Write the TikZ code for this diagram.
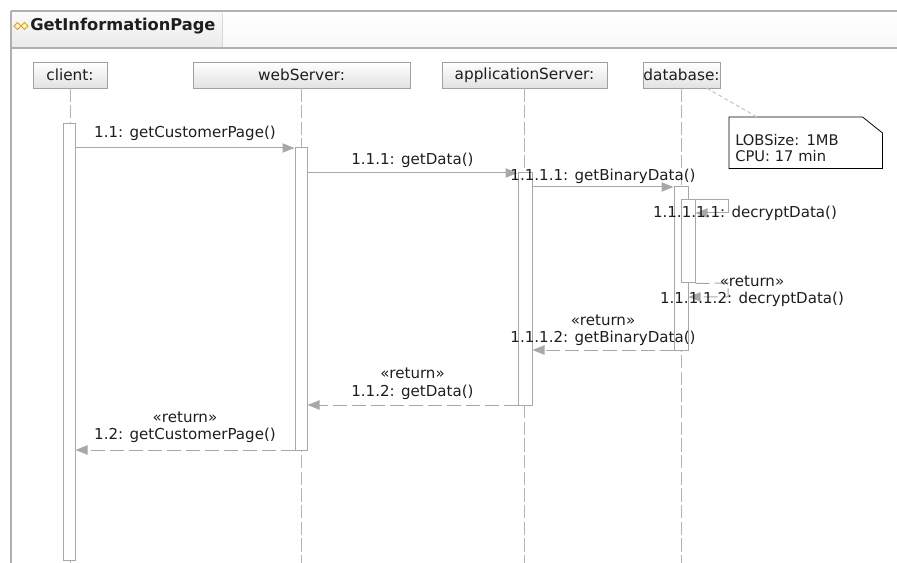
\documentclass[tikz,border=0pt]{standalone}
\usepackage{fontspec}
\setmainfont{DejaVu Sans}
\usetikzlibrary{arrows.meta,fit}

\definecolor{linegray}{HTML}{A8A8A8}
\definecolor{lifegray}{HTML}{B4B4B4}
\definecolor{headfill}{HTML}{E2E2E2}
\definecolor{headline}{HTML}{A0A0A0}
\definecolor{framegray}{HTML}{B0B0B0}
\definecolor{txt}{HTML}{1E1E1E}
\definecolor{iconorange}{HTML}{E39A2E}

\tikzset{
  head/.style={draw=headline, top color=white, bottom color=headfill, inner sep=0pt,
    minimum height=19.5pt, font=\fontsize{11.5}{13}\selectfont, text=txt},
  act/.style={draw=linegray, fill=white, inner sep=0pt, line width=0.75pt},
  life/.style={draw=lifegray, line width=0.75pt, dash pattern=on 10pt off 2.5pt},
  call/.style={draw=linegray, line width=0.75pt,
    -{Triangle[length=9pt,width=7pt,fill=linegray]}},
  ret/.style={call, dash pattern=on 10.5pt off 3.75pt},
  lbl/.style={font=\fontsize{11.3}{12.8}\selectfont, text=txt, inner sep=1.5pt, align=center},
}

\begin{document}
\begin{tikzpicture}[x=0.75pt, y=-0.75pt]
  \useasboundingbox (0,0) rectangle (897,563);

  % frame and header
  \fill[top color=white, bottom color=gray!6] (11,11) rectangle (897,48);
  \fill[top color=gray!4, bottom color=gray!16] (11,13) rectangle (222,47);
  \draw[gray!30] (222,13) -- (222,47);
  \draw[framegray, line width=1.1pt] (11,11) -- (897,11);
  \draw[framegray, line width=1.5pt] (11,48) -- (897,48);
  \draw[framegray, line width=2.2pt] (11,11) -- (11,563);
  \foreach \ix in {17.5,24.5}
    \draw[iconorange, fill=yellow!30, line width=0.7pt]
      (\ix-3.5,26) -- (\ix,22.5) -- (\ix+3.5,26) -- (\ix,29.5) -- cycle;
  \node[anchor=west, font=\fontsize{12.2}{14}\selectfont\bfseries, text=txt, inner sep=0pt]
    (title) at (30,26) {GetInformationPage};

  % lifelines
  \node[head, minimum width=55.5pt] (client) at (70,75) {client:};
  \node[head, minimum width=162.75pt] (webServer) at (301.5,75) {webServer:};
  \node[head, minimum width=123.75pt] (appServer) at (524.5,75) {applicationServer:};
  \node[head, minimum width=57.75pt] (database) at (681.5,75) {database:};
  \coordinate (bottom) at (0,563);
  \foreach \n in {client,webServer,appServer,database}
    \draw[life] (\n.south) -- (\n.south |- bottom);

  % activations
  \node[act, fit={(63,124) (75,560)}] (aClient) {};
  \node[act, fit={(295,148) (307,450)}] (aWeb) {};
  \node[act, fit={(518,173) (532,405)}] (aApp) {};
  \node[act, fit={(674,187) (688,350)}] (aDb) {};
  \node[act, fit={(681,200) (695,283)}] (aNest) {};

  % message levels
  \coordinate (m1) at (0,148);
  \coordinate (m2) at (0,173);
  \coordinate (m3) at (0,187);
  \coordinate (s1) at (728,200);
  \coordinate (s2) at (728,213);
  \coordinate (r1) at (728,283);
  \coordinate (r2) at (728,297);
  \coordinate (m5) at (0,350);
  \coordinate (m6) at (0,405);
  \coordinate (m7) at (0,450);

  % calls
  \draw[call] (aClient.east |- m1) -- node[lbl, above=3.5pt] {1.1: getCustomerPage()} (aWeb.west |- m1);
  \draw[call] (aWeb.east |- m2) -- node[lbl, above=2.5pt] {1.1.1: getData()} (aApp.west |- m2);
  \draw[call] (aApp.east |- m3) -- node[lbl, above=1pt] {1.1.1.1: getBinaryData()} (aDb.west |- m3);
  \draw[call] (aDb.east |- s1) -- (s1) -- (s2) -- (aNest.east |- s2);
  \node[lbl] (selfCall) at (745,213) {1.1.1.1.1: decryptData()};

  % returns
  \draw[ret] (aNest.south east) -- (r1) -- (r2) -- (aDb.east |- r2);
  \node[lbl] (selfRet) at (752,291) {«return»\\1.1.1.1.2: decryptData()};
  \draw[ret] (aDb.west |- m5) -- node[lbl, above=1.5pt] {«return»\\1.1.1.2: getBinaryData()} (aApp.east |- m5);
  \draw[ret] (aApp.west |- m6) -- node[lbl, above=2.5pt] {«return»\\1.1.2: getData()} (aWeb.east |- m6);
  \draw[ret] (aWeb.west |- m7) -- node[lbl, above=3.5pt] {«return»\\1.2: getCustomerPage()} (aClient.east |- m7);

  % note on the database
  \node[anchor=north west, minimum height=38.25pt, text width=105.75pt, inner xsep=4.5pt,
    align=left, font=\fontsize{11}{12}\selectfont, text=txt] (lobNote) at (729,122)
    {LOBSize: 1MB\\CPU: 17 min};
  \draw[black, line width=0.6pt] ([yshift=3.75pt]lobNote.north west)
    -- ([xshift=-15pt,yshift=3.75pt]lobNote.north east)
    -- ([yshift=-8.25pt]lobNote.north east) -- ([yshift=3.75pt]lobNote.south east)
    -- ([yshift=3.75pt]lobNote.south west) -- cycle;
  \draw[gray!40, line width=0.9pt, dash pattern=on 3pt off 2pt]
    ([xshift=-10pt]database.south east) -- ([xshift=21pt,yshift=3.75pt]lobNote.north west);
\end{tikzpicture}
\end{document}
